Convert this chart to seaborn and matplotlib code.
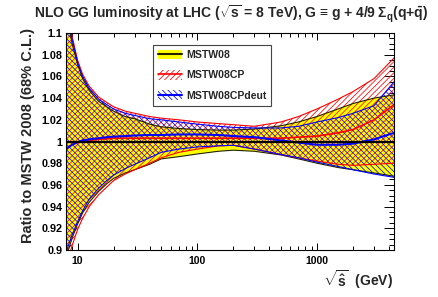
#!/usr/bin/env python3
"""NLO GG luminosity ratio bands (MSTW08 / CP / CPdeut) at LHC 8 TeV."""

import matplotlib

matplotlib.use("Agg")
import matplotlib.pyplot as plt
import matplotlib.ticker as mticker
from matplotlib.lines import Line2D
from matplotlib.patches import Patch
import pandas as pd
import seaborn as sns

# sqrt(s_hat) in GeV
ROOTS_HAT = [8, 9, 10, 11, 12.5, 15, 17.5, 20, 25, 30, 40, 50, 70, 100,
             150, 200, 300, 500, 700, 1000, 1500, 2000, 3000, 4400]

MSTW08_CENTRAL = [1.0, 1.0, 1.0, 1.0, 1.0, 1.0, 1.0, 1.0, 1.0, 1.0, 1.0, 1.0,
                  1.0, 1.0, 1.0, 1.0, 1.0, 1.0, 1.0, 1.0, 1.0, 1.0, 1.0, 1.0]
MSTW08_HI = [1.120, 1.090, 1.071, 1.058, 1.047, 1.037, 1.032, 1.028, 1.023,
             1.021, 1.016, 1.0135, 1.012, 1.011, 1.0105, 1.0105, 1.0115,
             1.0145, 1.018, 1.023, 1.030, 1.035, 1.040, 1.043]
MSTW08_LO = [0.893, 0.911, 0.924, 0.934, 0.944, 0.954, 0.961, 0.966, 0.971,
             0.974, 0.979, 0.984, 0.986, 0.9885, 0.991, 0.992, 0.991, 0.9876,
             0.984, 0.980, 0.976, 0.974, 0.971, 0.968]

CP_CENTRAL = [0.994, 0.997, 0.999, 1.000, 1.001, 1.002, 1.0025, 1.003, 1.003,
              1.003, 1.003, 1.003, 1.003, 1.003, 1.003, 1.003, 1.003, 1.003,
              1.004, 1.005, 1.008, 1.011, 1.020, 1.034]
CP_HI = [1.128, 1.097, 1.075, 1.062, 1.051, 1.041, 1.036, 1.032, 1.028, 1.026,
         1.023, 1.0215, 1.020, 1.018, 1.0165, 1.0155, 1.014, 1.018, 1.023,
         1.030, 1.039, 1.046, 1.058, 1.077]
CP_LO = [0.885, 0.904, 0.919, 0.929, 0.940, 0.951, 0.958, 0.964, 0.970, 0.974,
         0.980, 0.985, 0.990, 0.993, 0.996, 0.9965, 0.993, 0.988, 0.985,
         0.982, 0.979, 0.978, 0.979, 0.980]

CPDEUT_CENTRAL = [0.993, 0.997, 0.9995, 1.001, 1.002, 1.003, 1.004, 1.0045,
                  1.005, 1.0055, 1.006, 1.006, 1.0065, 1.0065, 1.006, 1.005,
                  1.004, 1.001, 0.999, 0.997, 0.997, 0.998, 1.002, 1.008]
CPDEUT_HI = [1.124, 1.094, 1.073, 1.060, 1.049, 1.039, 1.034, 1.030, 1.026,
             1.024, 1.021, 1.020, 1.018, 1.016, 1.014, 1.013, 1.0125, 1.0125,
             1.014, 1.018, 1.022, 1.026, 1.033, 1.055]
CPDEUT_LO = [0.898, 0.914, 0.926, 0.936, 0.947, 0.957, 0.964, 0.969, 0.975,
             0.979, 0.985, 0.990, 0.993, 0.995, 0.996, 0.9965, 0.993, 0.988,
             0.985, 0.981, 0.977, 0.974, 0.970, 0.967]

YELLOW = "#ffff00"
RED = "#ff0000"
BLUE = "#0000ff"
HATCH_RED = "//////"
HATCH_BLUE = "\\\\\\\\\\\\"

W, H = 438, 297


def main() -> None:
    sns.set_theme(style="ticks")
    plt.rcParams["font.family"] = ["Liberation Sans", "DejaVu Sans"]
    plt.rcParams["font.weight"] = "bold"
    plt.rcParams["mathtext.fontset"] = "custom"
    plt.rcParams["mathtext.rm"] = "Liberation Sans:bold"
    plt.rcParams["mathtext.it"] = "Liberation Sans:bold"
    plt.rcParams["mathtext.bf"] = "Liberation Sans:bold"
    plt.rcParams["hatch.linewidth"] = 0.55

    df = pd.DataFrame({
        "roots": ROOTS_HAT,
        "m08": MSTW08_CENTRAL, "m08_lo": MSTW08_LO, "m08_hi": MSTW08_HI,
        "cp": CP_CENTRAL, "cp_lo": CP_LO, "cp_hi": CP_HI,
        "deut": CPDEUT_CENTRAL, "deut_lo": CPDEUT_LO, "deut_hi": CPDEUT_HI,
    })

    fig = plt.figure(figsize=(W / 100, H / 100), dpi=100)
    fig.patch.set_facecolor("white")
    ax = fig.add_axes([66 / W, 1 - 250 / H, 328 / W, 217 / H])
    ax.set_facecolor("white")
    ax.set_xscale("log")

    # bands
    ax.fill_between(df["roots"], df["m08_lo"], df["m08_hi"],
                    facecolor=YELLOW, edgecolor="none", lw=0, zorder=1)
    ax.fill_between(df["roots"], df["cp_lo"], df["cp_hi"], facecolor="none",
                    edgecolor=RED, hatch=HATCH_RED, lw=0, zorder=2)
    ax.fill_between(df["roots"], df["deut_lo"], df["deut_hi"], facecolor="none",
                    edgecolor=BLUE, hatch=HATCH_BLUE, lw=0, zorder=3)

    # band edges and central values
    edges = [("m08_lo", "#222200", 0.8), ("m08_hi", "#222200", 0.8),
             ("cp_lo", RED, 0.8), ("cp_hi", RED, 0.8),
             ("deut_lo", BLUE, 0.8), ("deut_hi", BLUE, 0.8),
             ("cp", RED, 1.2), ("deut", BLUE, 1.5), ("m08", "black", 1.5)]
    for i, (col, color, lw) in enumerate(edges):
        sns.lineplot(data=df, x="roots", y=col, color=color, linewidth=lw,
                     estimator=None, ax=ax, zorder=4 + i, legend=False)

    ax.set_xlim(8, 4400)
    ax.set_ylim(0.9, 1.1)
    ax.set_xlabel("")
    ax.set_ylabel("")

    ax.xaxis.set_major_locator(mticker.FixedLocator([10, 100, 1000]))
    ax.xaxis.set_major_formatter(mticker.FixedFormatter(["10", "100", "1000"]))
    ax.xaxis.set_minor_locator(mticker.LogLocator(base=10, subs=range(2, 10)))
    ax.xaxis.set_minor_formatter(mticker.NullFormatter())
    yt = [round(0.9 + 0.02 * k, 2) for k in range(11)]
    ax.yaxis.set_major_locator(mticker.FixedLocator(yt))
    ax.yaxis.set_major_formatter(mticker.FixedFormatter([f"{v:g}" for v in yt]))
    ax.yaxis.set_minor_locator(mticker.MultipleLocator(0.005))

    ax.tick_params(axis="both", which="both", direction="in", top=True,
                   right=True, colors="black", width=0.7)
    ax.tick_params(axis="y", which="major", length=7, pad=2.5, labelsize=7.8)
    ax.tick_params(axis="y", which="minor", length=3.5)
    ax.tick_params(axis="x", which="major", length=5, pad=4.5, labelsize=7.5)
    ax.tick_params(axis="x", which="minor", length=3)
    for lab in ax.get_xticklabels() + ax.get_yticklabels():
        lab.set_fontweight("bold")
    for sp in ax.spines.values():
        sp.set_color("black")
        sp.set_linewidth(0.8)
        sp.set_zorder(20)

    # legend
    handles = [
        (Patch(facecolor=YELLOW, edgecolor="none", lw=0),
         Line2D([], [], color="#222200", lw=1.5)),
        (Patch(facecolor="none", edgecolor=RED, hatch=HATCH_RED, lw=0),
         Line2D([], [], color=RED, lw=1.2)),
        (Patch(facecolor="none", edgecolor=BLUE, hatch=HATCH_BLUE, lw=0),
         Line2D([], [], color=BLUE, lw=1.5)),
    ]
    leg = fig.legend(handles, ["MSTW08", "MSTW08CP", "MSTW08CPdeut"],
                     loc="upper left", bbox_to_anchor=(153 / W, 1 - 45 / H),
                     bbox_transform=fig.transFigure, borderaxespad=0,
                     prop={"size": 7.6, "weight": "bold"}, fancybox=False,
                     framealpha=1, edgecolor="#444444", handlelength=2.3,
                     handleheight=1.0, handletextpad=0.4, labelspacing=0.95,
                     borderpad=0.45)
    leg.get_frame().set_linewidth(0.8)

    # titles
    fig.text(231 / W, 1 - 14 / H,
             r"NLO GG luminosity at LHC ($\sqrt{s}$ = 8 TeV), G ≡ g + 4/9 "
             r"$\Sigma_{q}$(q+$\bar{q}$)",
             ha="center", va="center", fontsize=10, fontweight="bold")
    fig.text(28 / W, 1 - 28 / H, "Ratio to MSTW 2008 (68% C.L.)",
             rotation=90, ha="center", va="top", fontsize=10.5,
             fontweight="bold")
    fig.text(393 / W, 1 - 280 / H, r"$\sqrt{\hat{s}}$  (GeV)",
             ha="right", va="center", fontsize=10, fontweight="bold")

    fig.savefig("out.png", dpi=100)
    plt.close(fig)


if __name__ == "__main__":
    main()
